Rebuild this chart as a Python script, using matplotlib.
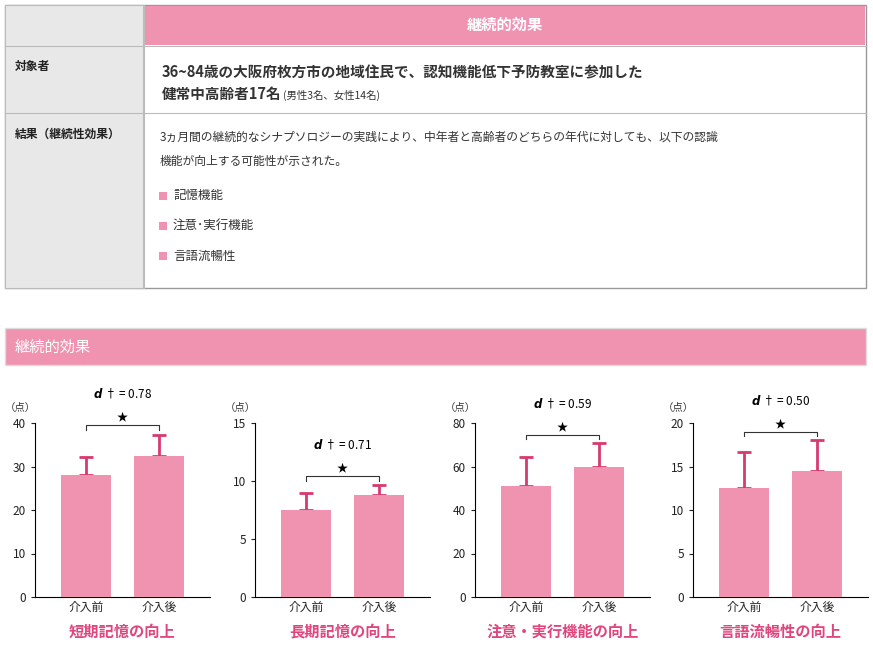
import matplotlib
matplotlib.use("Agg")
import matplotlib.pyplot as plt
from matplotlib.patches import Rectangle

plt.rcParams["font.family"] = ["Noto Sans CJK JP", "DejaVu Sans"]

PINK = "#f093b0"
DARK = "#d63a6e"
TITLE = "#e0467c"

categories = ["介入前", "介入後"]
titles = ["短期記憶の向上", "長期記憶の向上", "注意・実行機能の向上", "言語流暢性の向上"]
means = [[28.0, 32.3], [7.5, 8.8], [51.0, 60.0], [12.5, 14.5]]
errs = [[4.2, 5.0], [1.5, 0.85], [13.5, 11.0], [4.2, 3.6]]
ymax = [40, 15, 80, 20]
ystep = [10, 5, 20, 5]
dvals = ["0.78", "0.71", "0.59", "0.50"]
bracket_y = [39.5, 10.4, 74.5, 19.0]

W, H = 873, 653
fig = plt.figure(figsize=(W / 100, H / 100), dpi=100)
bg = fig.add_axes([0, 0, 1, 1])
bg.set_xlim(0, W); bg.set_ylim(H, 0); bg.axis("off")

def rect(x0, y0, x1, y1, fc, ec="none", lw=0):
    bg.add_patch(Rectangle((x0, y0), x1 - x0, y1 - y0, facecolor=fc, edgecolor=ec, lw=lw))

# table
rect(5, 5, 866, 288, "white", "#999999", 1)
rect(5, 5, 143, 288, "#e8e8e8", "#bbbbbb", 0.8)
rect(145, 6, 865, 45, PINK)
bg.plot([5, 866], [45.5, 45.5], color="#bbbbbb", lw=0.8)
bg.plot([5, 866], [113, 113], color="#bbbbbb", lw=0.8)
bg.plot([143.5, 143.5], [5, 288], color="#bbbbbb", lw=0.8)
bg.text(505, 25, "継続的効果", color="white", fontsize=11, fontweight="bold", ha="center", va="center")
bg.text(15, 66, "対象者", fontsize=8.5, fontweight="bold", va="center", color="#222222")
bg.text(15, 134, "結果（継続性効果）", fontsize=8.5, fontweight="bold", va="center", color="#222222")
bg.text(162, 72, "36~84歳の大阪府枚方市の地域住民で、認知機能低下予防教室に参加した",
        fontsize=10.5, fontweight="bold", va="center", color="#333333")
bg.text(162, 94, "健常中高齢者17名", fontsize=10.5, fontweight="bold", va="center", color="#333333")
bg.text(283, 95, "(男性3名、女性14名)", fontsize=7.5, va="center", color="#333333")
bg.text(160, 137, "3ヵ月間の継続的なシナプソロジーの実践により、中年者と高齢者のどちらの年代に対しても、以下の認識",
        fontsize=8.5, va="center", color="#333333")
bg.text(160, 162, "機能が向上する可能性が示された。", fontsize=8.5, va="center", color="#333333")
for i, t in enumerate(["記憶機能", "注意･実行機能", "言語流暢性"]):
    y = 196 + i * 30
    rect(159, y - 4, 167, y + 4, PINK)
    bg.text(173, y, t, fontsize=9, va="center", color="#333333")

# banner
rect(5, 328, 866, 365, PINK, "#dddddd", 1)
bg.text(15, 347, "継続的効果", color="white", fontsize=11, va="center")

axis_x = [35, 255, 475, 693]
for i in range(4):
    x0 = axis_x[i]
    ax = fig.add_axes([x0 / W, 1 - 597 / H, 175 / W, (597 - 423) / H])
    pos = [0, 1]
    ax.bar(pos, means[i], width=0.69, color=PINK, zorder=3)
    ax.errorbar(pos, means[i], yerr=[[0, 0], errs[i]], fmt="none", ecolor=DARK,
                elinewidth=2, capsize=5, capthick=2, zorder=1)
    ax.set_xlim(-0.7, 1.7)
    ax.set_ylim(0, ymax[i])
    ax.set_yticks(range(0, ymax[i] + 1, ystep[i]))
    ax.set_xticks(pos, categories)
    for s in ["top", "right"]:
        ax.spines[s].set_visible(False)
    ax.tick_params(labelsize=8.5, length=3, colors="#222222")
    ax.tick_params(axis="x", length=0, pad=3)
    by = bracket_y[i]
    dy = ymax[i] * 0.025
    ax.plot([0, 0, 1, 1], [by - dy, by, by, by - dy], color="#333333", lw=0.8, clip_on=False)
    ax.text(0.5, by + ymax[i] * 0.015, "★", ha="center", va="bottom", fontsize=8, clip_on=False)
    ax.text(0.5, by + ymax[i] * 0.14, r"$\boldsymbol{d}$ † = " + dvals[i], ha="center", va="bottom",
            fontsize=8.5, clip_on=False)
    bg.text(x0 - 30, 408, "（点）", ha="left", va="center", fontsize=7.5, color="#333333")
    ax.text(0.5, -0.2, titles[i], transform=ax.transAxes, ha="center", va="center",
            fontsize=11, fontweight="bold", color=TITLE)

fig.savefig("out.png", dpi=100)
